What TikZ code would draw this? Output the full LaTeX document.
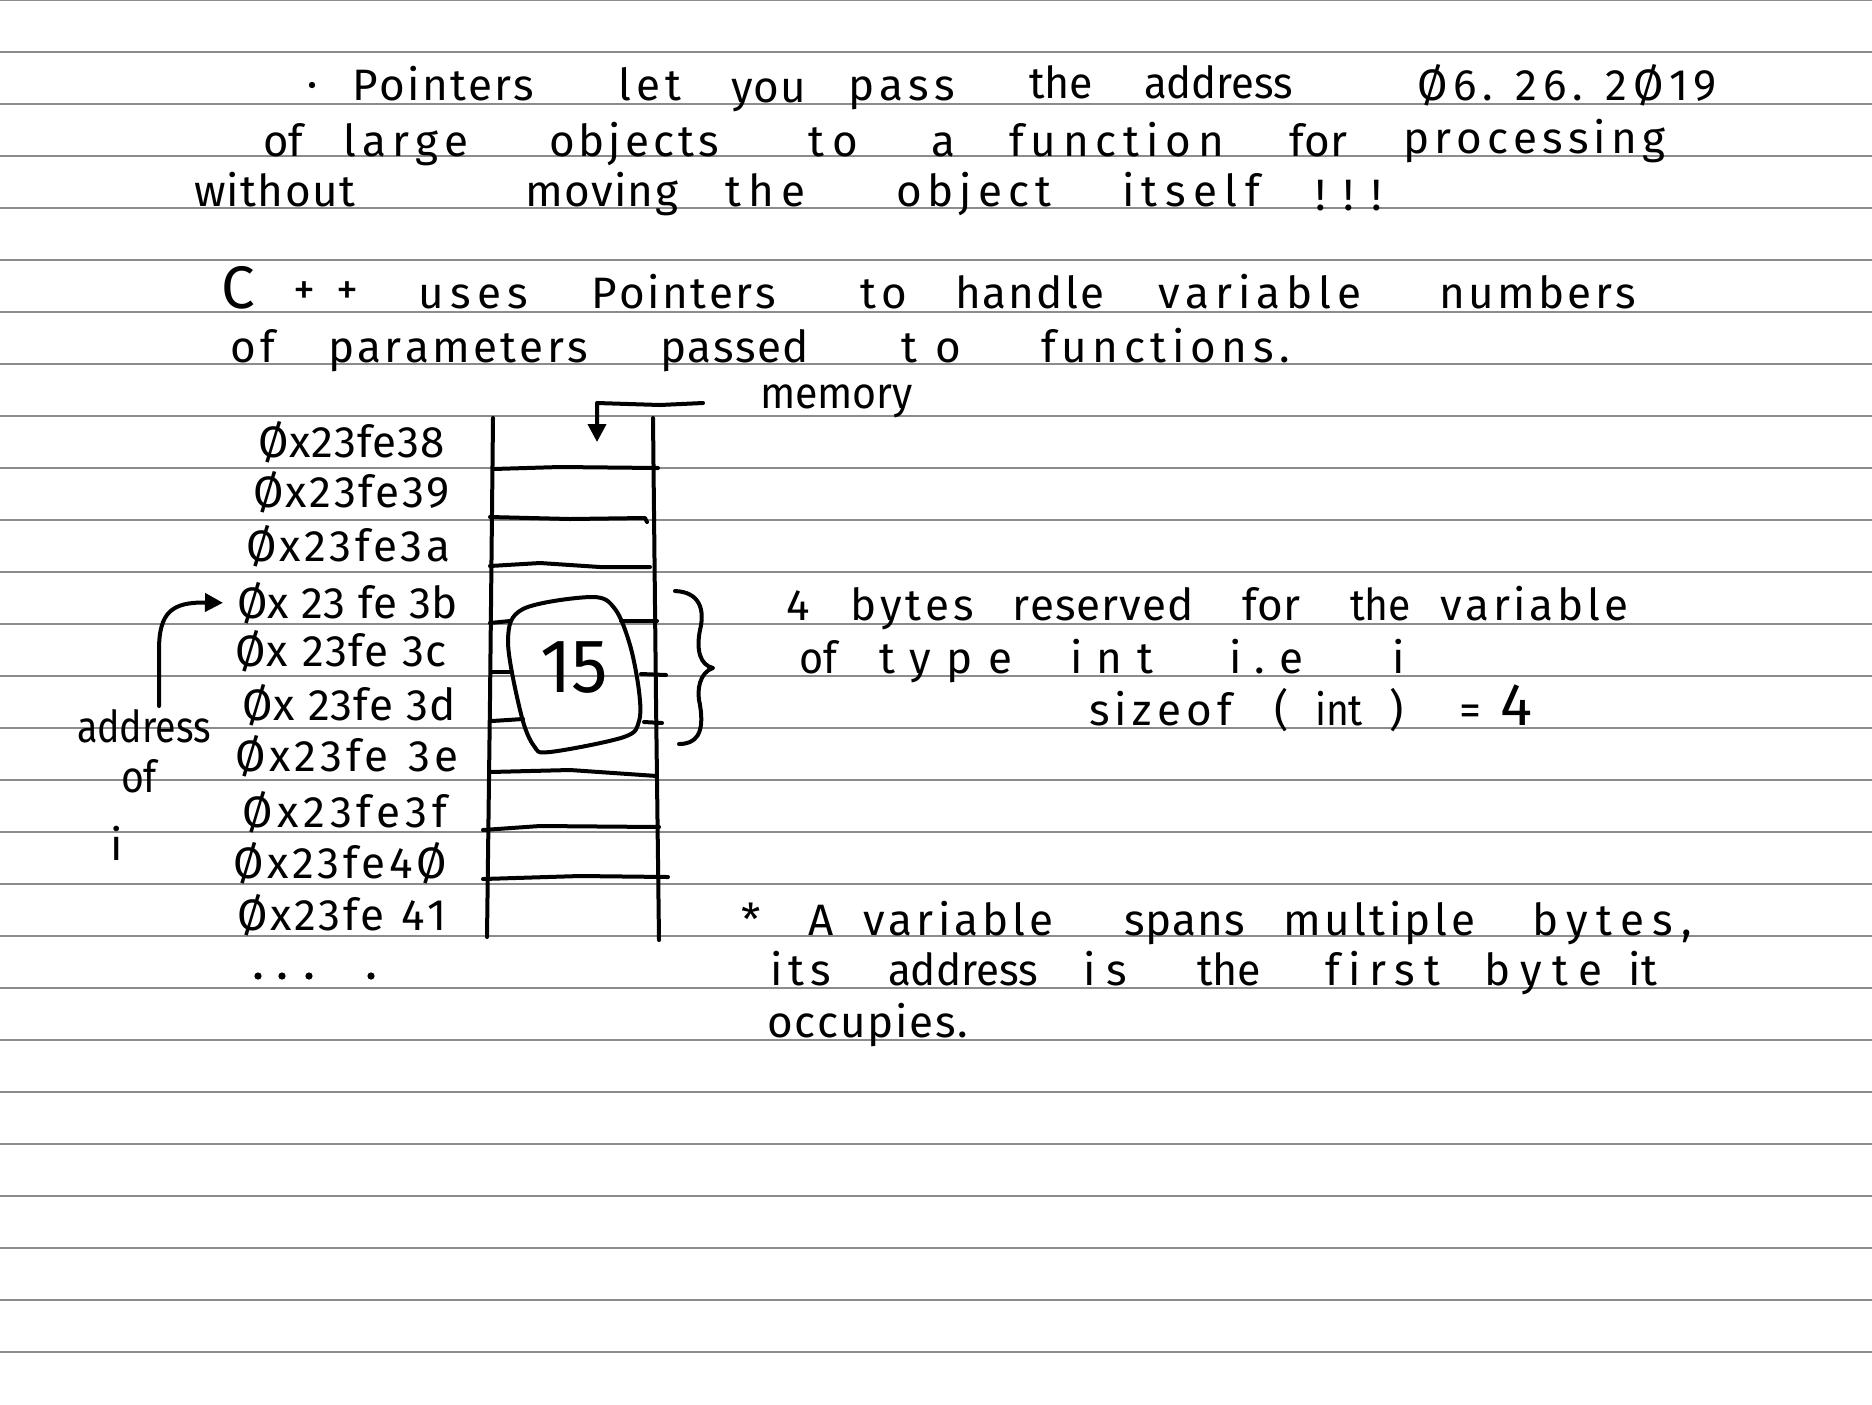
\documentclass[tikz,border=0pt]{standalone}
\usepackage{fontspec}
\setmainfont{Fira Sans}
\usetikzlibrary{arrows.meta}
\newlength\pxu \setlength\pxu{0.5pt}
\newlength\wtarget
\newsavebox\wbox
\def\sprA#1{#1\sprB}
\def\sprB#1{\ifx#1\relax\else\hfil#1\expandafter\sprB\fi}
\newcommand\fitword[2]{%
 \setlength\wtarget{#1\pxu}%
 \sbox\wbox{#2}%
 \ifdim\wd\wbox>\wtarget\relax
   \resizebox{\wtarget}{\height}{#2}%
 \else
   \makebox[\wtarget][s]{\sprA#2\relax}%
 \fi}
\tikzset{
 txt/.style={anchor=base west, inner sep=0pt, outer sep=0pt, font=\fontsize{22}{26}\selectfont},
 bigtxt/.style={txt, font=\fontsize{30}{34}\selectfont},
 ink/.style={line width=2pt, line cap=round, line join=round},
 rule/.style={line width=1pt, draw=black!45},
 arr/.style={ink, -{Triangle[length=9pt,width=9pt]}},
}
\newcommand\hw[6][txt]{\node[#1] (#2) at (#3,#4) {\fitword{#5}{#6}};}
\newcommand\hwn[5][txt]{\node[#1] (#2) at (#3,#4) {#5};}
\begin{document}
\begin{tikzpicture}[x=0.5pt,y=-0.5pt]
\fill[white] (0,0) rectangle (1872,1404);
\useasboundingbox (0,0) rectangle (1872,1404);
\foreach \k in {0,...,26} \draw[rule] (0,52*\k) -- (1872,52*\k);
% line 1
\fill (312,85) circle (1.6pt);
\hw{w1}{352}{100}{182}{Pointers}
\hw{w2}{618}{100}{63}{let}
\hw{w3}{731}{102}{75}{you}
\hw{w4}{848}{100}{107}{pass}
\hw{w5}{1029}{98}{64}{the}
\hw{w6}{1144}{98}{149}{address}
\hw{date}{1417}{100}{300}{Ø6.~26.~2Ø19}
% line 2
\hw{w7}{263}{156}{40}{of}
\hw{w8}{343}{156}{126}{large}
\hw{w9}{549}{156}{170}{objects}
\hw{w10}{808}{156}{50}{to}
\hwn{w11}{931}{156}{a}
\hw{w12}{1009}{156}{215}{function}
\hw{w13}{1289}{156}{58}{for}
\hw{w14}{1403}{153}{262}{processing}
% line 3
\hw{w15}{194}{206}{161}{without}
\hw{w16}{525}{206}{153}{moving}
\hw{w17}{725}{206}{80}{the}
\hw{w18}{896}{206}{155}{object}
\hw{w19}{1122}{206}{138}{itself}
\hw{w20}{1315}{210}{67}{!!!}
% line 4
\hw[bigtxt]{w21}{221}{308}{39}{C}
\hw{w22}{293}{304}{65}{++}
\hw{w23}{418}{308}{110}{uses}
\hw{w24}{591}{308}{185}{Pointers}
\hw{w25}{860}{308}{47}{to}
\hw{w26}{955}{308}{149}{handle}
\hw{w27}{1158}{308}{203}{variable}
\hw{w28}{1439}{308}{197}{numbers}
% line 5
\hw{w29}{230}{362}{45}{of}
\hw{w30}{328}{362}{260}{parameters}
\hw{w31}{660}{362}{149}{passed}
\hw{w32}{901}{362}{60}{to}
\hw{w33}{1041}{362}{249}{functions.}
% memory label
\hw{memlbl}{760}{408}{153}{memory}
% addresses
\hw{a38}{258}{457}{187}{Øx23fe38}
\hw{a39}{253}{507}{197}{Øx23fe39}
\hw{a3a}{246}{561}{204}{Øx23fe3a}
\hw{a3b}{237}{618}{221}{Øx~23~fe~3b}
\hw{a3c}{235}{666}{212}{Øx~23fe~3c}
\hw{a3d}{242}{720}{214}{Øx~23fe~3d}
\hw{a3e}{235}{771}{223}{Øx23fe~3e}
\hw{a3f}{242}{827}{205}{Øx23fe3f}
\hw{a40}{233}{878}{214}{Øx23fe4Ø}
\hw{a41}{237}{930}{210}{Øx23fe~41}
\foreach \dx in {258,282,309,371} \fill (\dx,976) circle (1.8pt);
% address of i
\hw{addr}{77}{742}{134}{address}
\hw{addrof}{121}{792}{36}{of}
\hwn{addri}{110}{860}{i}
\coordinate (astart) at (159,706);
\draw[arr] (astart) -- (159,650) .. controls (159,612) and (172,602) .. ([xshift=-7pt]a3b.west);
% memory block
\draw[ink] (493,418) -- (490,700) -- (487,937);
\draw[ink] (653,418) -- (656,700) -- (659,940);
\draw[ink] (493,469) -- (560,467) -- (658,468);
\draw[ink] (490,517) -- (570,519) -- (645,518) -- (647,522);
\draw[ink] (490,566) -- (540,563) -- (600,567) -- (650,567);
\draw[ink] (490,623) -- (510,621);
\draw[ink] (621,621) -- (657,621);
\draw[ink] (492,672) -- (512,672);
\draw[ink] (641,674) -- (666,675);
\draw[ink] (492,721) -- (523,719);
\draw[ink] (644,722) -- (662,723);
\draw[ink] (490,772) -- (570,770) -- (657,776);
\draw[ink] (483,830) -- (540,826) -- (659,827);
\draw[ink] (483,879) -- (580,876) -- (668,877);
\coordinate (mstart) at (703,403);
\coordinate (mtop) at (597,442);
\draw[arr] (mstart) -- (660,405) -- (597,403) -- (mtop);
% the value 15
\node[inner sep=0pt, font=\fontsize{38}{42}\selectfont] (n15) at (574,668) {\resizebox{68\pxu}{\height}{15}};
\draw[ink] plot[smooth cycle, tension=0.55] coordinates {(523,609) (592,597) (615,609) (630,645) (639,691) (639,721) (624,737) (550,752) (534,746) (521,714) (508,641)};
% brace
\draw[ink] (675,591) .. controls (700,592) and (705,610) .. (700,630) .. controls (696,650) and (700,665) .. (713,668) .. controls (700,672) and (696,690) .. (700,705) .. controls (705,735) and (695,744) .. (679,744);
% right text
\hwn{r1}{786}{620}{4}
\hw{r2}{850}{620}{124}{bytes}
\hw{r3}{1012}{620}{182}{reserved}
\hw{r4}{1242}{620}{58}{for}
\hw{r5}{1350}{620}{61}{the}
\hw{r6}{1440}{620}{188}{variable}
\hw{r7}{799}{673}{38}{of}
\hw{r8}{879}{673}{133}{type}
\hw{r9}{1070}{673}{83}{int}
\hw{r10}{1229}{673}{74}{i.e}
\hwn{r11}{1392}{673}{i}
\hw{r12}{1089}{725}{143}{sizeof}
\hwn{r13}{1274}{725}{(}
\hw{r14}{1315}{725}{48}{int}
\hwn{r15}{1389}{725}{)}
\hwn{r16}{1459}{725}{=}
\hwn[bigtxt]{r17}{1500}{725}{4}
% bottom note
\hwn{b1}{741}{935}{*}
\hwn{b2}{808}{935}{A}
\hw{b3}{863}{935}{191}{variable}
\hw{b4}{1124}{935}{121}{spans}
\hw{b5}{1283}{935}{192}{multiple}
\hw{b6}{1532}{935}{160}{bytes,}
\hw{b7}{770}{985}{61}{its}
\hw{b8}{888}{985}{150}{address}
\hw{b9}{1083}{985}{44}{is}
\hw{b10}{1197}{985}{64}{the}
\hw{b11}{1325}{985}{115}{first}
\hw{b12}{1484}{985}{118}{byte}
\hw{b13}{1628}{985}{29}{it}
\hw{b14}{767}{1037}{201}{occupies.}
\end{tikzpicture}
\end{document}
